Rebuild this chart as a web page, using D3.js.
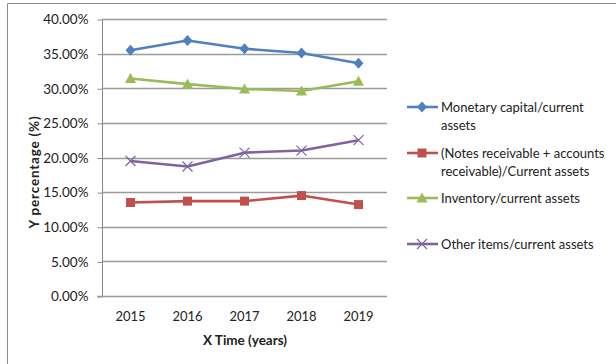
<!DOCTYPE html>
<head>
<meta charset="utf-8">
<style>
body { margin: 0; background: #fff; }
svg text { font-family: Lato, "Open Sans", sans-serif; fill: #222; }
</style>
</head>
<body>
<div id="chart"></div>
<script src="https://cdn.jsdelivr.net/npm/d3@7"></script>
<script>
var years = ["2015", "2016", "2017", "2018", "2019"];
var yTicks = [0, 0.05, 0.10, 0.15, 0.20, 0.25, 0.30, 0.35, 0.40];

var monetary  = [0.355, 0.369, 0.357, 0.351, 0.336];
var notes     = [0.135, 0.137, 0.137, 0.145, 0.132];
var inventory = [0.314, 0.306, 0.299, 0.296, 0.310];
var other     = [0.195, 0.187, 0.207, 0.210, 0.225];

var seriesNames = [
  ["Monetary capital/current", "assets"],
  ["(Notes receivable + accounts", "receivable)/Current assets"],
  ["Inventory/current assets"],
  ["Other items/current assets"]
];
var colors = ["#4f81bd", "#c0504d", "#9bbb59", "#8064a2"];
var shapes = ["diamond", "square", "triangle", "cross"];

(function() {
  "use strict";

  var W = 616, H = 364;
  var x0 = 102, x1 = 387, yTop = 19, yBot = 296;

  var svg = d3.select("#chart").append("svg")
    .attr("width", W)
    .attr("height", H);

  // sheet frame
  svg.append("path")
    .attr("d", "M7.5," + H + "V3.5H" + W)
    .attr("fill", "none")
    .attr("stroke", "#8c8c8c");

  var x = d3.scaleBand().domain(years).range([x0, x1]);
  var y = d3.scaleLinear().domain([0, 0.40]).range([yBot, yTop]);

  // gridlines
  svg.append("g").selectAll("line")
    .data(yTicks.slice(1))
    .enter().append("line")
      .attr("x1", x0).attr("x2", x1)
      .attr("y1", function(d) { return Math.round(y(d)) + 0.5; })
      .attr("y2", function(d) { return Math.round(y(d)) + 0.5; })
      .attr("stroke", "#9a9a9a")
      .attr("stroke-width", 1.3);

  var yAxis = svg.append("g")
    .attr("transform", "translate(" + (x0 + 0.5) + ",0.5)")
    .call(d3.axisLeft(y).tickValues(yTicks).tickSize(5).tickPadding(9)
      .tickFormat(function(d) { return (d * 100).toFixed(2) + "%"; }));
  yAxis.select(".domain").attr("stroke", "#888").attr("d", "M0," + yTop + "V" + yBot);
  yAxis.selectAll(".tick line").attr("stroke", "#888");
  yAxis.selectAll("text").attr("font-size", 13.5).style("fill", "#222");

  var xAxis = svg.append("g")
    .attr("transform", "translate(0," + (yBot + 0.5) + ")")
    .call(d3.axisBottom(x).tickSize(0).tickPadding(15));
  xAxis.select(".domain").attr("stroke", "#999").attr("stroke-width", 1.5)
    .attr("d", "M" + (x0 - 5) + ",0H" + x1);
  xAxis.selectAll("text").attr("font-size", 13).style("fill", "#222");

  svg.append("text")
    .attr("x", 245).attr("y", 345)
    .attr("text-anchor", "middle")
    .attr("font-size", 13.5).attr("font-weight", "bold")
    .text("X Time (years)");

  svg.append("text")
    .attr("transform", "translate(39,172) rotate(-90)")
    .attr("text-anchor", "middle")
    .attr("font-size", 13.5).attr("font-weight", "bold")
    .attr("letter-spacing", 0.8)
    .text("Y percentage (%)");

  function marker(g, shape, color) {
    if (shape === "diamond") {
      g.append("path").attr("d", "M0,-5.5L5,0L0,5.5L-5,0Z").attr("fill", color);
    } else if (shape === "square") {
      g.append("rect").attr("x", -4.5).attr("y", -4.5).attr("width", 9).attr("height", 9).attr("fill", color);
    } else if (shape === "triangle") {
      g.append("path").attr("d", "M0,-5.5L5.5,4.5L-5.5,4.5Z").attr("fill", color);
    } else {
      g.append("path").attr("d", "M-5,-5L5,5M-5,5L5,-5")
        .attr("stroke", color).attr("stroke-width", 1.2).attr("fill", "none");
    }
  }

  var allSeries = [monetary, notes, inventory, other];
  var line = d3.line()
    .x(function(d, i) { return x(years[i]) + x.bandwidth() / 2; })
    .y(function(d) { return y(d); });

  allSeries.forEach(function(vals, s) {
    svg.append("path")
      .attr("d", line(vals))
      .attr("fill", "none")
      .attr("stroke", colors[s])
      .attr("stroke-width", 2.6)
      .attr("stroke-linejoin", "round");
    vals.forEach(function(v, i) {
      var g = svg.append("g")
        .attr("transform", "translate(" + (x(years[i]) + x.bandwidth() / 2) + "," + y(v) + ")");
      marker(g, shapes[s], colors[s]);
    });
  });

  // legend
  var legY = [107, 153, 198, 244];
  seriesNames.forEach(function(lines, s) {
    var g = svg.append("g").attr("transform", "translate(0," + legY[s] + ")");
    g.append("line")
      .attr("x1", 407).attr("x2", 438)
      .attr("stroke", colors[s]).attr("stroke-width", 2.6);
    marker(g.append("g").attr("transform", "translate(422,0)"), shapes[s], colors[s]);
    lines.forEach(function(t, k) {
      g.append("text")
        .attr("x", 441).attr("y", k * 18 + 4.5)
        .attr("font-size", 13)
        .text(t);
    });
  });
})();
</script>
</body>
